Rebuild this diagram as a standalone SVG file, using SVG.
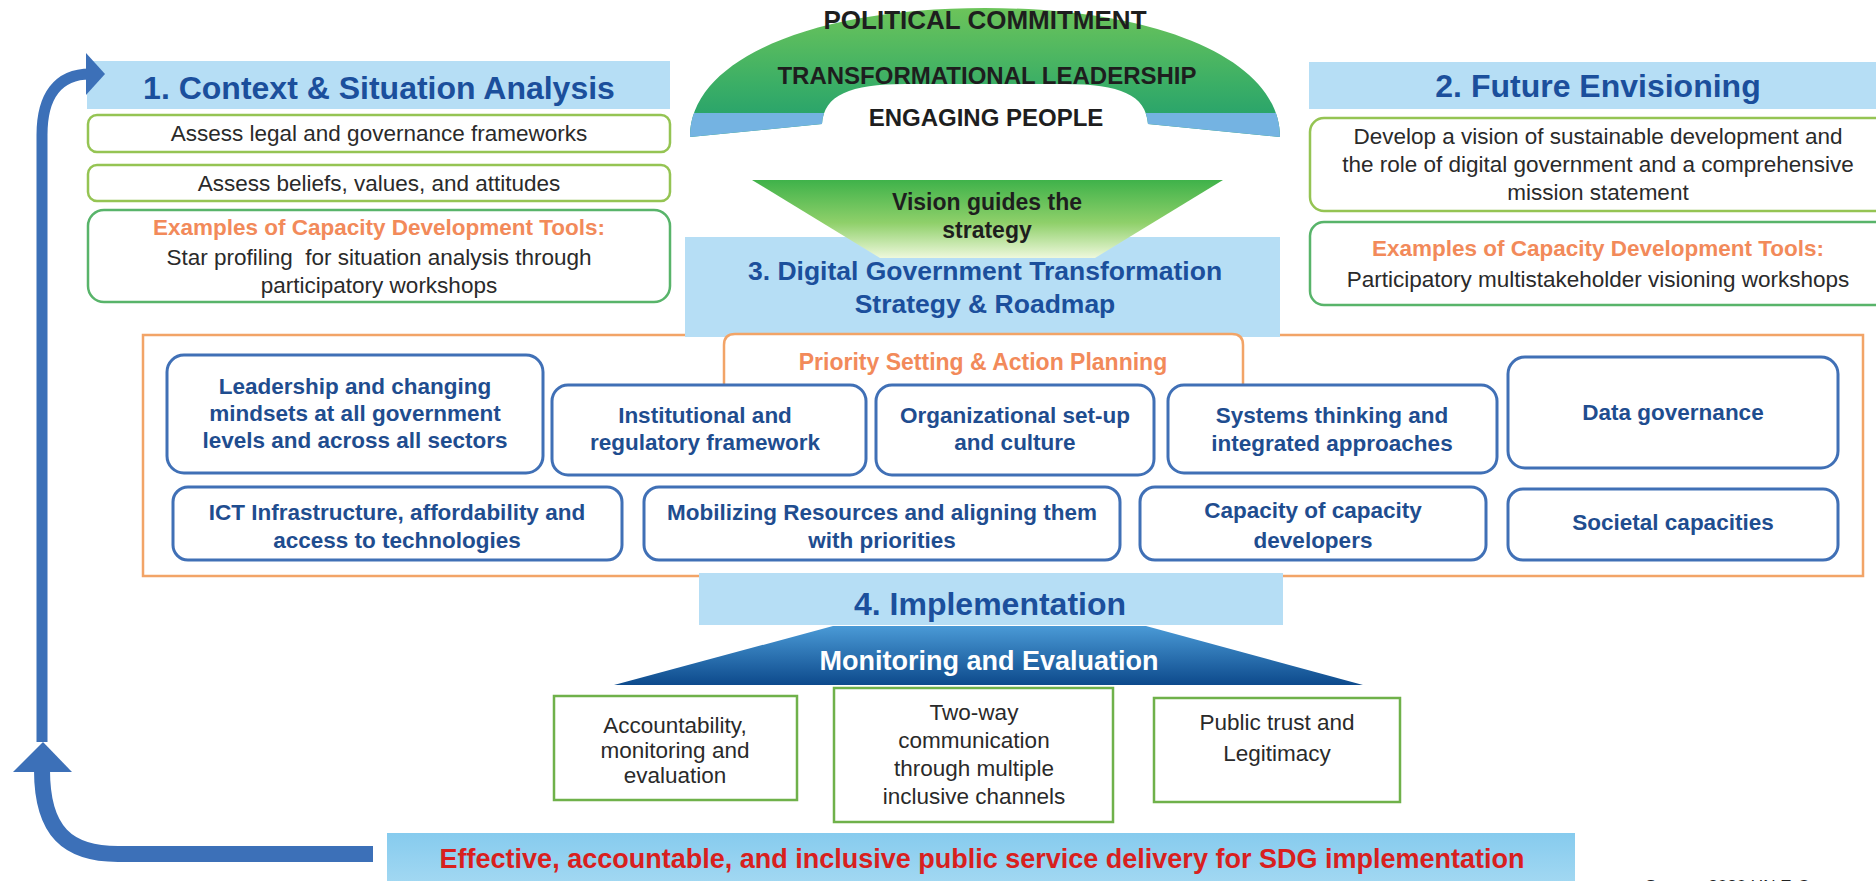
<svg xmlns="http://www.w3.org/2000/svg" width="1876" height="881" viewBox="0 0 1876 881">
<defs>
<style>
text{font-family:"Liberation Sans",Arial,sans-serif;text-anchor:middle}
.hdr{fill:#b6def5}
.ht{font-weight:bold;fill:#1b4f9c}
.gb1{fill:#fff;stroke:#95c453;stroke-width:2.5}
.gb2{fill:#fff;stroke:#58b46a;stroke-width:2.5}
.body{font-size:22.5px;fill:#2a2a2a}
.ex{font-size:22.5px;font-weight:bold;fill:#f28a5a}
.bb{fill:#fff;stroke:#4070b6;stroke-width:3}
.bt{font-size:22.5px;font-weight:bold;fill:#1f4d8f}
.sq{fill:#fff;stroke:#6fb14a;stroke-width:2.5}
.arch{font-weight:bold;fill:#1e1e1e}
.arr{fill:none;stroke:#3c70b8}
</style>
<linearGradient id="archG" x1="0" y1="0" x2="0" y2="1">
<stop offset="0" stop-color="#6cc45a"/>
<stop offset="0.6" stop-color="#3aae66"/>
<stop offset="1" stop-color="#1f9d6e"/>
</linearGradient>
<clipPath id="archClip">
<path d="M690 137 C690 60 810 8 985 8 C1160 8 1280 60 1280 137 L1148 124 C1146 95 1120 84 1065 84 L905 84 C850 84 824 95 822 124 Z"/>
</clipPath>
<linearGradient id="visG" x1="0" y1="0" x2="0" y2="1">
<stop offset="0" stop-color="#3fb24a"/>
<stop offset="0.55" stop-color="#8fd06a"/>
<stop offset="1" stop-color="#eef8dc"/>
</linearGradient>
<linearGradient id="monG" x1="0" y1="0" x2="0" y2="1">
<stop offset="0" stop-color="#4a9ad6"/>
<stop offset="1" stop-color="#0d4a8c"/>
</linearGradient>
<linearGradient id="barG" x1="0" y1="0" x2="0" y2="1">
<stop offset="0" stop-color="#86cbee"/>
<stop offset="1" stop-color="#a2d8f2"/>
</linearGradient>
</defs>

<!-- Step 1 -->
<g id="step1">
<rect class="hdr" x="87" y="61" width="583" height="48"/>
<text class="ht" x="379" y="98.5" font-size="32">1. Context &amp; Situation Analysis</text>
</g>
<g id="assess-legal">
<rect class="gb1" x="88" y="115" width="582" height="37" rx="9"/>
<text class="body" x="379" y="141">Assess legal and governance frameworks</text>
</g>
<g id="assess-beliefs">
<rect class="gb1" x="88" y="165" width="582" height="36" rx="9"/>
<text class="body" x="379" y="191">Assess beliefs, values, and attitudes</text>
</g>
<g id="tools-1">
<rect class="gb2" x="88" y="210" width="582" height="92" rx="16"/>
<text class="ex" x="379" y="235">Examples of Capacity Development Tools:</text>
<text class="body" x="379" y="265" xml:space="preserve">Star profiling  for situation analysis through</text>
<text class="body" x="379" y="293">participatory workshops</text>
</g>

<!-- Arch -->
<g id="arch">
<path d="M690 137 C690 60 810 8 985 8 C1160 8 1280 60 1280 137 L1148 124 C1146 95 1120 84 1065 84 L905 84 C850 84 824 95 822 124 Z" fill="url(#archG)"/>
<rect x="680" y="113" width="610" height="30" fill="#74b3e2" clip-path="url(#archClip)"/>
<text class="arch" x="985" y="29" font-size="26">POLITICAL COMMITMENT</text>
<text class="arch" x="987" y="83.5" font-size="24">TRANSFORMATIONAL LEADERSHIP</text>
<text class="arch" x="986" y="125.5" font-size="24">ENGAGING PEOPLE</text>
</g>

<!-- Step 2 -->
<g id="step2">
<rect class="hdr" x="1309" y="62" width="570" height="47"/>
<text class="ht" x="1598" y="96.5" font-size="32">2. Future Envisioning</text>
</g>
<g id="vision">
<rect class="gb1" x="1310" y="118" width="580" height="93" rx="14"/>
<text class="body" x="1598" y="144" font-size="23">Develop a vision of sustainable development and</text>
<text class="body" x="1598" y="172" font-size="23">the role of digital government and a comprehensive</text>
<text class="body" x="1598" y="200" font-size="23">mission statement</text>
</g>
<g id="tools-2">
<rect class="gb2" x="1310" y="222" width="580" height="83" rx="14"/>
<text class="ex" x="1598" y="256">Examples of Capacity Development Tools:</text>
<text class="body" x="1598" y="287" font-size="23">Participatory multistakeholder visioning workshops</text>
</g>

<!-- Step 3 -->
<g id="frame">
<rect x="143" y="335" width="1720" height="241" fill="#fff" stroke="#f2a467" stroke-width="2.5"/>
</g>
<g id="step3">
<rect class="hdr" x="685" y="237" width="595" height="100"/>
<text class="ht" x="985" y="279.5" font-size="26.5">3. Digital Government Transformation</text>
<text class="ht" x="985" y="312.5" font-size="26.5">Strategy &amp; Roadmap</text>
</g>
<g id="vision-guides">
<polygon points="752,180 1223,180 1095,258 880,258" fill="url(#visG)"/>
<text class="arch" x="987" y="210" font-size="23">Vision guides the</text>
<text class="arch" x="987" y="238" font-size="23">strategy</text>
</g>
<g id="priority">
<path d="M724 410 L724 345 Q724 334 735 334 L1232 334 Q1243 334 1243 345 L1243 410" fill="#fff" stroke="#f2a467" stroke-width="2.5"/>
<text x="983" y="370" font-size="23" font-weight="bold" fill="#f28a5a">Priority Setting &amp; Action Planning</text>
</g>

<g id="leadership">
<rect class="bb" x="167" y="355" width="376" height="118" rx="17"/>
<text class="bt" x="355" y="394">Leadership and changing</text>
<text class="bt" x="355" y="421">mindsets at all government</text>
<text class="bt" x="355" y="448">levels and across all sectors</text>
</g>
<g id="institutional">
<rect class="bb" x="552" y="385" width="314" height="90" rx="16"/>
<text class="bt" x="705" y="423">Institutional and</text>
<text class="bt" x="705" y="450">regulatory framework</text>
</g>
<g id="organizational">
<rect class="bb" x="876" y="385" width="278" height="90" rx="16"/>
<text class="bt" x="1015" y="423">Organizational set-up</text>
<text class="bt" x="1015" y="450">and culture</text>
</g>
<g id="systems">
<rect class="bb" x="1168" y="385" width="329" height="88" rx="16"/>
<text class="bt" x="1332" y="423">Systems thinking and</text>
<text class="bt" x="1332" y="451">integrated approaches</text>
</g>
<g id="data">
<rect class="bb" x="1508" y="357" width="330" height="111" rx="17"/>
<text class="bt" x="1673" y="420">Data governance</text>
</g>
<g id="ict">
<rect class="bb" x="173" y="487" width="449" height="73" rx="15"/>
<text class="bt" x="397" y="520">ICT Infrastructure, affordability and</text>
<text class="bt" x="397" y="548">access to technologies</text>
</g>
<g id="mobilizing">
<rect class="bb" x="644" y="487" width="476" height="73" rx="15"/>
<text class="bt" x="882" y="520">Mobilizing Resources and aligning them</text>
<text class="bt" x="882" y="548">with priorities</text>
</g>
<g id="capacity">
<rect class="bb" x="1140" y="487" width="346" height="73" rx="15"/>
<text class="bt" x="1313" y="518">Capacity of capacity</text>
<text class="bt" x="1313" y="548">developers</text>
</g>
<g id="societal">
<rect class="bb" x="1508" y="489" width="330" height="71" rx="15"/>
<text class="bt" x="1673" y="530">Societal capacities</text>
</g>

<!-- Step 4 -->
<g id="step4">
<rect class="hdr" x="699" y="573" width="584" height="52"/>
<text class="ht" x="990" y="614.5" font-size="32">4. Implementation</text>
</g>
<g id="monitoring">
<polygon points="833,626 1146,626 1363,685 614,685" fill="url(#monG)"/>
<text x="989" y="669.5" font-size="27" font-weight="bold" fill="#fff">Monitoring and Evaluation</text>
</g>
<g id="accountability">
<rect class="sq" x="554" y="696" width="243" height="104"/>
<text class="body" x="675" y="733" font-size="23">Accountability,</text>
<text class="body" x="675" y="758" font-size="23">monitoring and</text>
<text class="body" x="675" y="783" font-size="23">evaluation</text>
</g>
<g id="two-way">
<rect class="sq" x="834" y="688" width="279" height="134"/>
<text class="body" x="974" y="720" font-size="23">Two-way</text>
<text class="body" x="974" y="748" font-size="23">communication</text>
<text class="body" x="974" y="776" font-size="23">through multiple</text>
<text class="body" x="974" y="804" font-size="23">inclusive channels</text>
</g>
<g id="public-trust">
<rect class="sq" x="1154" y="698" width="246" height="104"/>
<text class="body" x="1277" y="730" font-size="23">Public trust and</text>
<text class="body" x="1277" y="761" font-size="23">Legitimacy</text>
</g>

<g id="outcome">
<rect x="387" y="833" width="1188" height="50" fill="url(#barG)"/>
<text x="982" y="867.5" font-size="27" font-weight="bold" fill="#d8201e">Effective, accountable, and inclusive public service delivery for SDG implementation</text>
</g>

<g id="source">
<text x="1645" y="892" font-size="17" fill="#222" style="text-anchor:start">Source: 2020 UN E-Government Survey</text>
</g>

<!-- Connectors -->
<g id="connectors">
<path class="arr" d="M42 742 L42 135 C42 96 58 74 90 74" stroke-width="11"/>
<polygon points="86,53 105,74 86,95" fill="#3c70b8"/>
<path class="arr" d="M42 770 C42 832 68 854 118 854 L373 854" stroke-width="16"/>
<polygon points="43,742 72,772 13,772" fill="#3c70b8"/>
</g>
</svg>
